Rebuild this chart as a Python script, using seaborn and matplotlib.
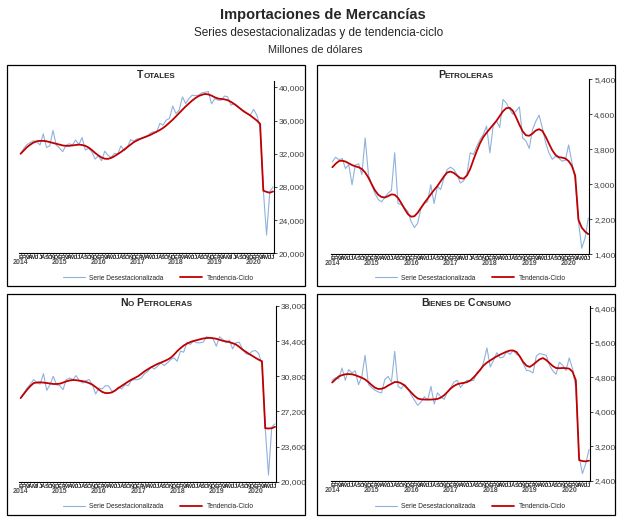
import numpy as np
import pandas as pd
import seaborn as sns
import matplotlib.pyplot as plt
from matplotlib.patches import Rectangle
from matplotlib.offsetbox import TextArea, HPacker, AnnotationBbox

# Tamaños de letra
TF = 10.5   # titulo
STF = 8.5   # subtitulo
LGF = 4.8   # leyenda
TS = 6      # ticks eje y
MS = 4.3    # letras de meses
YS = 5      # años

# ------------------------------------------------------------------------------
# Datos mensuales, enero 2014 - julio 2020 (millones de dolares)
meses = list(range(79))
letras = ['E', 'F', 'M', 'A', 'M', 'J', 'J', 'A', 'S', 'O', 'N', 'D']
anios = ['2014', '2015', '2016', '2017', '2018', '2019', '2020']

totales_sa = [31950, 32650, 33100, 33350, 33550, 33450, 33050, 34400, 32750, 32950,
              34800, 33050, 32700, 32250, 33000, 33200, 33050, 33650, 33100, 33950,
              32450, 32650, 32250, 31350, 31750, 31150, 32300, 31800, 31550, 32050,
              31950, 32950, 32350, 32800, 33700, 33500, 33800, 33750, 33900, 34050,
              34450, 34650, 34550, 35650, 35450, 36050, 36250, 37750, 36850, 37250,
              38850, 38050, 38650, 39050, 39000, 39050, 39350, 39400, 39500, 38000,
              38650, 38450, 38450, 38950, 38850, 37850, 38000, 37750, 37350, 37050,
              36850, 36650, 37350, 36650, 35250, 27650, 22200, 27450, 28000]
totales_tc = [32000, 32400, 32800, 33100, 33350, 33500, 33550, 33550, 33500, 33400,
              33300, 33200, 33100, 33000, 32950, 32950, 33000, 33050, 33100, 33050,
              32950, 32750, 32450, 32100, 31800, 31550, 31400, 31380, 31500, 31700,
              31950, 32200, 32500, 32800, 33100, 33400, 33600, 33800, 33950, 34100,
              34250, 34450, 34650, 34850, 35100, 35400, 35750, 36100, 36500, 36900,
              37300, 37700, 38050, 38400, 38700, 38950, 39100, 39200, 39150, 39000,
              38800, 38650, 38600, 38550, 38450, 38250, 38000, 37700, 37400, 37100,
              36850, 36600, 36300, 36000, 35600, 27550, 27400, 27300, 27450]

petro_sa = [3510, 3620, 3560, 3590, 3360, 3450, 2990, 3440, 3470, 3220,
            4060, 3220, 2990, 2790, 2650, 2600, 2700, 2800, 2860, 3720,
            2560, 2540, 2460, 2380, 2150, 2010, 2110, 2450, 2560, 2600,
            2990, 2560, 2950, 2880, 3140, 3340, 3390, 3340, 3220, 3030,
            3080, 3220, 3720, 3680, 3870, 4020, 4140, 4330, 3720, 4330,
            4450, 4300, 4940, 4860, 4720, 4600, 4680, 4770, 4060, 3990,
            3820, 4250, 4440, 4580, 4290, 3950, 3720, 3570, 3640, 3600,
            3530, 3550, 3900, 3500, 3100, 2150, 1540, 1770, 2230]
petro_tc = [3390, 3470, 3530, 3540, 3520, 3480, 3440, 3410, 3390, 3350,
            3270, 3150, 3000, 2860, 2760, 2710, 2700, 2730, 2770, 2760,
            2690, 2570, 2440, 2320, 2260, 2270, 2350, 2460, 2570, 2670,
            2770, 2870, 2960, 3070, 3180, 3270, 3290, 3260, 3200, 3140,
            3130, 3200, 3350, 3560, 3760, 3940, 4080, 4180, 4270, 4360,
            4450, 4560, 4670, 4740, 4750, 4680, 4530, 4360, 4210, 4120,
            4110, 4160, 4230, 4260, 4220, 4090, 3930, 3780, 3670, 3620,
            3610, 3590, 3530, 3420, 3200, 2190, 2010, 1920, 1860]

nopetro_sa = [28570, 29080, 29600, 30000, 30460, 30110, 30010, 31070, 29360, 29940,
              30800, 29940, 29840, 29430, 30460, 30630, 30460, 30870, 30350, 30110,
              30350, 30460, 29940, 28980, 29600, 29500, 29840, 29800, 29260, 29300,
              29700, 29500, 29940, 29840, 30390, 30460, 30460, 30630, 31070, 31310,
              31760, 31550, 31830, 32170, 31900, 32170, 32510, 32690, 32340, 33370,
              33270, 34300, 34060, 34400, 34230, 34230, 34300, 34850, 34740, 34640,
              33880, 34850, 34570, 34230, 34500, 33610, 34230, 34300, 33610, 33130,
              33030, 33370, 33440, 33130, 32000, 25500, 20680, 25600, 25930]
nopetro_tc = [28570, 29000, 29430, 29800, 30100, 30170, 30180, 30150, 30110, 30060,
              30010, 30010, 30040, 30150, 30280, 30370, 30420, 30400, 30350, 30300,
              30220, 30100, 29940, 29700, 29430, 29200, 29080, 29080, 29150, 29350,
              29600, 29820, 30040, 30260, 30460, 30630, 30800, 31050, 31310, 31520,
              31720, 31900, 32070, 32200, 32340, 32500, 32690, 33000, 33370, 33680,
              33950, 34140, 34300, 34420, 34500, 34590, 34670, 34720, 34740, 34700,
              34640, 34540, 34430, 34370, 34300, 34190, 34060, 33820, 33540, 33320,
              33100, 32900, 32690, 32500, 32340, 25480, 25450, 25480, 25620]

consumo_sa = [4730, 4790, 4760, 5015, 4730, 4980, 4900, 4950, 4630, 4810,
              5310, 4640, 4560, 4500, 4460, 4440, 4750, 4820, 4690, 5400,
              4590, 4540, 4640, 4540, 4390, 4270, 4150, 4230, 4350, 4270,
              4590, 4180, 4440, 4350, 4290, 4460, 4560, 4690, 4730, 4560,
              4670, 4730, 4720, 4730, 4920, 4950, 5150, 5480, 5040, 5190,
              5370, 5250, 5270, 5390, 5330, 5420, 5330, 5290, 5120, 4960,
              4950, 4900, 5290, 5350, 5330, 5310, 5080, 4950, 4870, 5150,
              5080, 4960, 5250, 5000, 4540, 2950, 2570, 2800, 3130]
consumo_tc = [4680, 4750, 4820, 4850, 4870, 4875, 4870, 4850, 4820, 4790,
              4750, 4690, 4620, 4560, 4530, 4535, 4560, 4610, 4650, 4690,
              4690, 4660, 4610, 4530, 4450, 4370, 4310, 4290, 4285, 4285,
              4285, 4290, 4300, 4330, 4385, 4460, 4540, 4600, 4640, 4660,
              4670, 4690, 4730, 4800, 4885, 4980, 5075, 5140, 5190, 5240,
              5285, 5325, 5360, 5395, 5420, 5420, 5385, 5280, 5155, 5070,
              5040, 5090, 5155, 5215, 5245, 5200, 5130, 5060, 5015, 5010,
              5015, 5010, 5000, 4930, 4730, 2885, 2860, 2855, 2870]

# ------------------------------------------------------------------------------
W, H = 625, 521

def fx(px):
    return px / W

def fy(py):
    return 1 - py / H

# (titulo en versalitas, serie, tendencia, ylim, ticks, ejes px, caja px, centro leyenda px)
paneles = [
    ([('T', True), ('OTALES', False)], totales_sa, totales_tc,
     (20000, 40800), np.arange(20000, 40001, 4000),
     (19, 80.7, 274, 253.3), (7, 65, 305, 286), (158, 278), 75),
    ([('P', True), ('ETROLERAS', False)], petro_sa, petro_tc,
     (1400, 5400), np.arange(1400, 5401, 800),
     (330.7, 79.3, 589.3, 254.3), (317, 65, 615, 286), (470, 278), 75),
    ([('N', True), ('O ', False), ('P', True), ('ETROLERAS', False)], nopetro_sa, nopetro_tc,
     (20000, 38000), np.arange(20000, 38001, 3600),
     (19, 306, 276, 481.7), (7, 294, 305, 515), (158, 507), 303),
    ([('B', True), ('IENES DE ', False), ('C', True), ('ONSUMO', False)], consumo_sa, consumo_tc,
     (2400, 6450), np.arange(2400, 6401, 800),
     (330.5, 306, 590, 481), (317, 294, 615, 515), (470, 507), 303),
]

sns.set_style("white")
plt.rcParams['font.family'] = ['Liberation Sans', 'DejaVu Sans']

fig = plt.figure(figsize=(6.25, 5.21), dpi=100)

fig.text(fx(323), fy(15), 'Importaciones de Mercancías', ha='center', va='center',
         fontsize=TF, fontweight='bold')
fig.text(fx(319), fy(33), 'Series desestacionalizadas y de tendencia-ciclo', ha='center',
         va='center', fontsize=STF)
fig.text(fx(315), fy(50), 'Millones de dólares', ha='center', va='center', fontsize=7.8)

etiquetas_mes = [letras[m % 12] for m in meses]

for titulo, serie, tend, ylim, yt, ejes, caja, ley, ty in paneles:
    x0, y0, x1, y1 = caja
    fig.patches.append(Rectangle((fx(x0), fy(y1)), fx(x1) - fx(x0), fy(y0) - fy(y1),
                                 transform=fig.transFigure, fill=False, edgecolor='black',
                                 linewidth=0.9, zorder=0))

    l, t, r, b = ejes
    ax = fig.add_axes([fx(l), fy(b), fx(r) - fx(l), fy(t) - fy(b)])
    ax.patch.set_alpha(0)

    sns.lineplot(x=meses, y=serie, ax=ax, color='#8fb2dc', linewidth=0.8,
                 label='Serie Desestacionalizada')
    sns.lineplot(x=meses, y=tend, ax=ax, color='#c00000', linewidth=1.3,
                 label='Tendencia-Ciclo')

    ax.set_xlim(-0.5, 78.3)
    ax.set_ylim(*ylim)
    ax.set_yticks(yt)
    ax.set_yticklabels([f'{v:,}' for v in yt], fontsize=TS, color='#404040')
    ax.yaxis.tick_right()
    ax.tick_params(axis='y', length=2, width=0.6, pad=1.5, direction='out', right=True)

    ax.set_xticks(meses)
    ax.set_xticklabels(etiquetas_mes, fontsize=MS, fontweight='bold')
    ax.tick_params(axis='x', length=1.2, width=0.4, pad=0.3, bottom=True)

    for s in ['left', 'top']:
        ax.spines[s].set_visible(False)
    for s in ['right', 'bottom']:
        ax.spines[s].set_color('black')
        ax.spines[s].set_linewidth(0.8)

    for k, a in enumerate(anios):
        ax.text(12 * k, -0.055, a, transform=ax.get_xaxis_transform(), ha='center',
                va='center', fontsize=YS, fontweight='bold', color='#505050')

    ax.legend(loc='center', bbox_to_anchor=(fx(ley[0]), fy(ley[1])),
              bbox_transform=fig.transFigure, ncol=2, frameon=False, fontsize=LGF,
              handlelength=3.4, columnspacing=2.4, handletextpad=0.6)

    piezas = [TextArea(txt, textprops=dict(fontsize=7.5 if big else 5.8, fontweight='bold'))
              for txt, big in titulo]
    pack = HPacker(children=piezas, align='baseline', pad=0, sep=0)
    fig.add_artist(AnnotationBbox(pack, (fx((x0 + x1) / 2), fy(ty)),
                                  xycoords='figure fraction', frameon=False,
                                  box_alignment=(0.5, 0.5)))

plt.savefig('out.png', dpi=100)
